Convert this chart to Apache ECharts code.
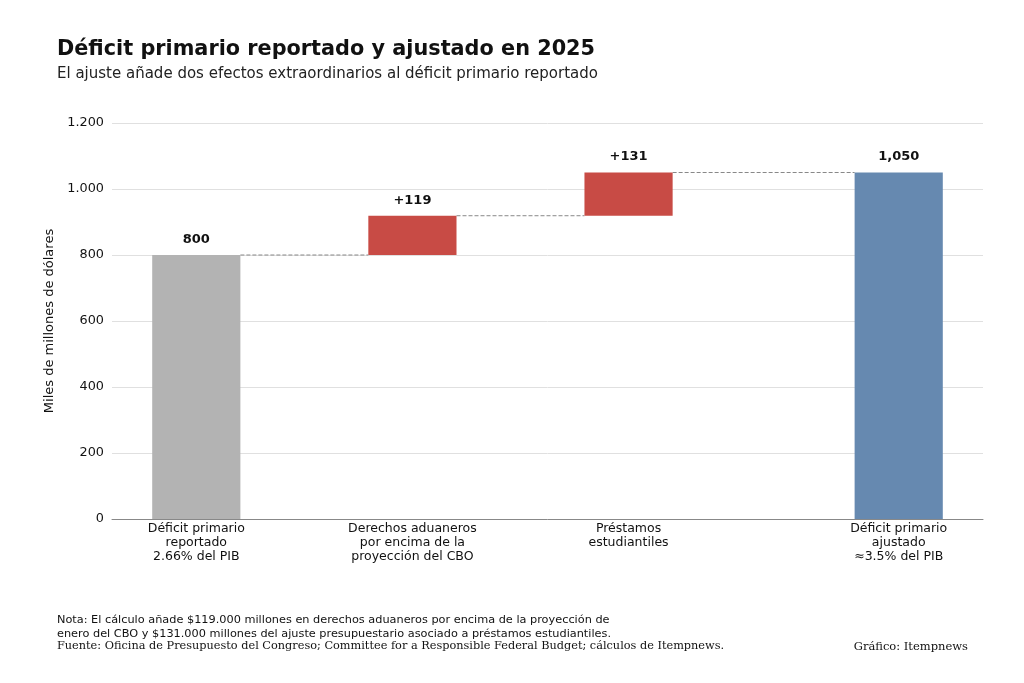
<!DOCTYPE html>
<html><head><meta charset="utf-8">
<script src="https://cdn.jsdelivr.net/npm/echarts@6/dist/echarts.min.js"></script>
<style>body{margin:0}#c{width:1024px;height:683px}</style></head>
<body><div id="c"></div>
<script>
const categories = ['Déficit primario\nreportado\n2.66% del PIB','Derechos aduaneros\npor encima de la\nproyección del CBO','Préstamos\nestudiantiles','Déficit primario\najustado\n≈3.5% del PIB'];
const positions = [0,1,2,3.25];
const bases = [0,800,919,0];
const values = [800,119,131,1050];
const valueLabels = ['800','+119','+131','1,050'];
const colors = ['#b3b3b3','#c84b45','#c84b45','#6689b0'];
const connectorLevels = [800,919,1050];

const hw = 0.204;
const conn = [];
for (let i=0;i<3;i++){ conn.push([positions[i]+hw, connectorLevels[i]],[positions[i+1]-hw, connectorLevels[i]], [null,null]); }
const labelMap = {}; positions.forEach((p,i)=>labelMap[p]=categories[i]);
const chart = echarts.init(document.getElementById('c'));
chart.setOption({
  animation:false,
  textStyle:{fontFamily:'DejaVu Sans'},
  title:[
    {text:'Déficit primario reportado y ajustado en 2025',left:52,top:34,textStyle:{fontSize:20.8,fontWeight:'bold',color:'#111'}},
    {text:'El ajuste añade dos efectos extraordinarios al déficit primario reportado',left:52,top:62,textStyle:{fontSize:15,fontWeight:'normal',color:'#222'}}
  ],
  graphic:[
    {type:'text',left:57,top:613,style:{text:'Nota: El cálculo añade $119.000 millones en derechos aduaneros por encima de la proyección de\nenero del CBO y $131.000 millones del ajuste presupuestario asociado a préstamos estudiantiles.',font:'11.3px DejaVu Sans',fill:'#111',lineHeight:14}},
    {type:'text',left:57,top:641,style:{text:'Fuente: Oficina de Presupuesto del Congreso; Committee for a Responsible Federal Budget; cálculos de Itempnews.',font:'11.3px DejaVu Serif',fill:'#111'}},
    {type:'text',right:56,top:641,style:{text:'Gráfico: Itempnews',font:'11.5px DejaVu Serif',fill:'#111'}}
  ],
  grid:{left:112,right:41,top:123,bottom:164},
  xAxis:{type:'value',min:-0.39,max:3.64,splitLine:{show:false},
    axisLine:{show:true,lineStyle:{color:'#888'}},axisTick:{show:false},
    axisLabel:{customValues:positions,formatter:v=>labelMap[v]||'',color:'#111',fontSize:12.5,lineHeight:14,margin:3}},
  yAxis:{type:'value',min:0,max:1200,interval:200,name:'Miles de millones de dólares',nameLocation:'middle',nameGap:52,
    nameTextStyle:{fontSize:13,color:'#111'},
    axisLine:{show:false},axisTick:{show:false},
    axisLabel:{color:'#111',fontSize:12.8,formatter:v=>v>=1000?String(v).replace(/(\d)(\d{3})$/,'$1.$2'):String(v)},
    splitLine:{lineStyle:{color:'#e0e0e0'}}},
  series:[
    {type:'custom',z:3,data:positions.map((p,i)=>[p,bases[i],bases[i]+values[i]]),
      renderItem:(params,api)=>{
        const i=params.dataIndex;
        const a=api.coord([api.value(0)-hw,api.value(2)]);
        const b=api.coord([api.value(0)+hw,api.value(1)]);
        return {type:'group',children:[
          {type:'rect',shape:{x:a[0],y:a[1],width:b[0]-a[0],height:b[1]-a[1]},style:{fill:colors[i]}},
          {type:'text',x:(a[0]+b[0])/2,y:a[1]-9,style:{text:valueLabels[i],textAlign:'center',textVerticalAlign:'bottom',font:'bold 13px DejaVu Sans',fill:'#111'}}
        ]};
      }},
    {type:'line',data:conn,symbol:'none',connectNulls:false,lineStyle:{type:'dashed',color:'#888',width:1},z:1}
  ]
});
</script></body></html>
